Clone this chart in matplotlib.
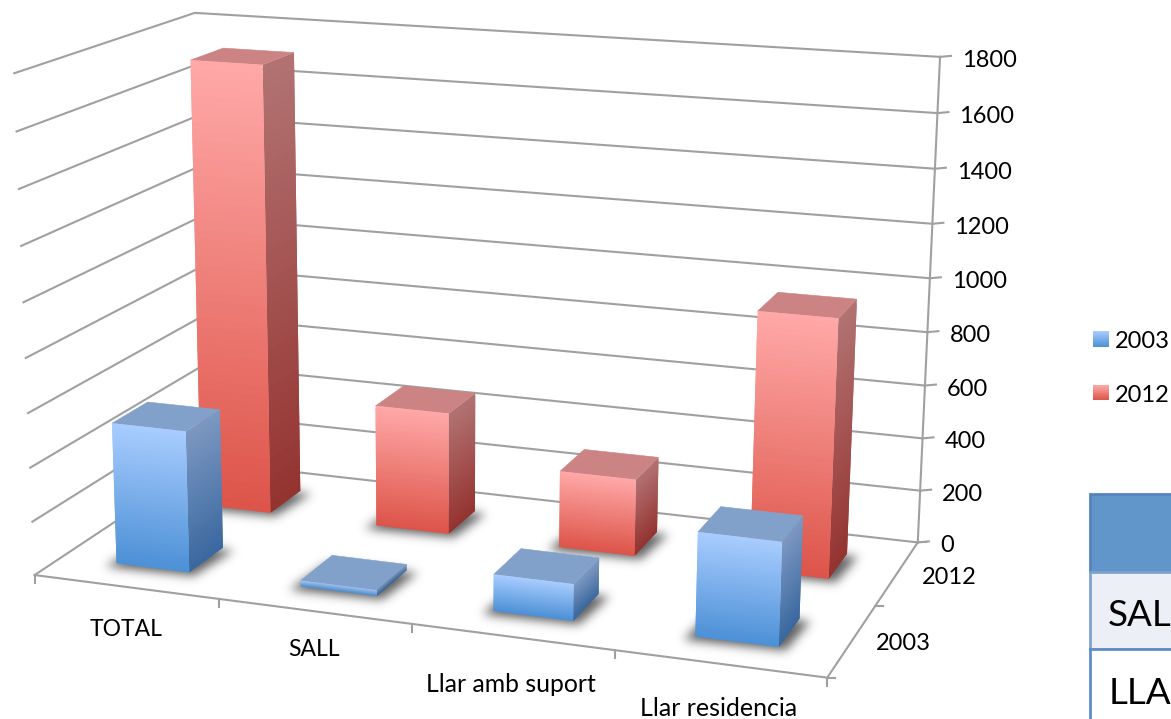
import matplotlib
matplotlib.use("Agg")
import matplotlib.pyplot as plt
from matplotlib.patches import Polygon, Rectangle
from matplotlib.path import Path
import numpy as np

plt.rcParams['font.family'] = ['Lato', 'DejaVu Sans']

categories = ['TOTAL', 'SALL', 'Llar amb suport', 'Llar residencia']
years = ['2003', '2012']
values_2003 = [525, 22, 133, 370]
values_2012 = [1710, 465, 290, 955]
value_ticks = [0, 200, 400, 600, 800, 1000, 1200, 1400, 1600, 1800]
table_rows = ['SAL', 'LLA']

# reference points of the box: (category, series, value) -> pixel
box_3d = [(0, 0, 0), (4, 0, 0), (4, 2, 0), (0, 2, 0), (0, 0, 1800), (4, 2, 1800), (0, 2, 1800)]
box_px = [(35, 575), (827, 678), (918, 542), (205, 462), (14, 73), (940, 57), (195, 13)]


def fit_camera(pts3, pts2):
    A, b = [], []
    for (x, y, z), (u, v) in zip(pts3, pts2):
        A.append([x, y, z, 1, 0, 0, 0, 0, -u * x, -u * y, -u * z])
        A.append([0, 0, 0, 0, x, y, z, 1, -v * x, -v * y, -v * z])
        b += [u, v]
    p = np.linalg.lstsq(np.array(A, float), np.array(b, float), rcond=None)[0]
    return np.append(p, 1).reshape(3, 4)


cam = fit_camera(box_3d, box_px)


def proj(c, s, v):
    q = cam @ np.array([c, s, v, 1.0])
    return q[0] / q[2], q[1] / q[2]


def gradient_quad(ax, top_l, top_r, bot_r, bot_l, col_top, col_bot, z, n=50):
    top_l, top_r, bot_r, bot_l = map(np.array, (top_l, top_r, bot_r, bot_l))
    c0, c1 = np.array(matplotlib.colors.to_rgb(col_top)), np.array(matplotlib.colors.to_rgb(col_bot))
    for i in range(n):
        t0, t1 = i / n, (i + 1) / n
        # each strip runs on under the next one, so no seams show
        t2 = min(1, t1 + 1 / n)
        pts = [top_l + (bot_l - top_l) * t0, top_r + (bot_r - top_r) * t0,
               top_r + (bot_r - top_r) * t2, top_l + (bot_l - top_l) * t2]
        col = c0 + (c1 - c0) * (t0 + t1) / 2
        ax.add_patch(Polygon(pts, closed=True, fc=col, ec='none', zorder=z + i * 0.0001))


def soft_shadow(ax, footprint, z, sigma=5.0, alpha=0.8):
    pts = np.array(footprint)
    centre = pts.mean(axis=0)
    # a little wider than the bar foot and moved down a bit
    half_w = np.ptp(pts[:, 0]) / 2
    grown = centre + (pts - centre) * [(half_w + 11) / half_w, 1.03] + [0, 3]
    x0, y0 = np.floor(grown.min(axis=0)) - 20
    x1, y1 = np.ceil(grown.max(axis=0)) + 20
    xs = np.arange(x0, x1)
    ys = np.arange(y0, y1)
    gx, gy = np.meshgrid(xs + 0.5, ys + 0.5)
    mask = Path(grown).contains_points(np.c_[gx.ravel(), gy.ravel()]).reshape(gx.shape).astype(float)
    r = np.arange(-15, 16)
    kern = np.exp(-r ** 2 / (2 * sigma ** 2))
    kern /= kern.sum()
    mask = np.apply_along_axis(lambda m: np.convolve(m, kern, mode='same'), 0, mask)
    mask = np.apply_along_axis(lambda m: np.convolve(m, kern, mode='same'), 1, mask)
    rgba = np.zeros(mask.shape + (4,))
    rgba[..., :3] = 0.22
    rgba[..., 3] = mask * alpha
    ax.imshow(rgba, extent=(x0, x1, y1, y0), aspect='auto', interpolation='bilinear', zorder=z)


def draw_bar(ax, cat, ser, val, cols, z):
    w = 0.2
    d = 0.2
    c0, c1 = cat + 0.5 - w, cat + 0.5 + w
    s0, s1 = ser + 0.5 - d, ser + 0.5 + d
    soft_shadow(ax, [proj(c0, s0, 0), proj(c1, s0, 0), proj(c1, s1, 0), proj(c0, s1, 0)], z - 1)
    gradient_quad(ax, proj(c1, s0, val), proj(c1, s1, val), proj(c1, s1, 0), proj(c1, s0, 0),
                  cols['side_top'], cols['side_bot'], z)
    ax.add_patch(Polygon([proj(c0, s0, val), proj(c1, s0, val), proj(c1, s1, val), proj(c0, s1, val)],
                         closed=True, fc=cols['top'], ec=cols['top'], lw=0.4, zorder=z))
    gradient_quad(ax, proj(c0, s0, val), proj(c1, s0, val), proj(c1, s0, 0), proj(c0, s0, 0),
                  cols['front_top'], cols['front_bot'], z + 0.1)


blue = {'front_top': '#A9CDFF', 'front_bot': '#4C90D6', 'side_top': '#7D98C2', 'side_bot': '#39689F', 'top': '#82A1CA'}
red = {'front_top': '#FFA9A8', 'front_bot': '#DD5449', 'side_top': '#B27373', 'side_bot': '#943330', 'top': '#CB8483'}

fig = plt.figure(figsize=(11.71, 7.19), dpi=100)
ax = fig.add_axes([0, 0, 1, 1])

grid_c = '#A0A0A0'
for v in value_ticks:
    a, b, c = proj(0, 0, v), proj(0, 2, v), proj(4, 2, v)
    ax.plot([a[0], b[0], c[0]], [a[1], b[1], c[1]], color=grid_c, lw=1.5, zorder=1)
    ax.plot([c[0], c[0] + 11], [c[1], c[1] - 1], color=grid_c, lw=1.5, zorder=1)
    ax.text(c[0] + 22, c[1] + 3.5, str(v), fontsize=17, ha='left', va='center', color='black')

p = [proj(0, 0, 0), proj(4, 0, 0), proj(4, 2, 0)]
ax.plot([q[0] for q in p], [q[1] for q in p], color=grid_c, lw=1.5, zorder=1)
q0, q1 = proj(4, 2, 0), proj(4, 2, 1800)
ax.plot([q0[0], q1[0]], [q0[1], q1[1]], color=grid_c, lw=1.5, zorder=1)
for i in range(5):
    q = proj(i, 0, 0)
    ax.plot([q[0], q[0]], [q[1], q[1] + 8], color=grid_c, lw=1.5, zorder=1)
for i in range(3):
    q = proj(4, i, 0)
    ax.plot([q[0], q[0] + 8], [q[1], q[1]], color=grid_c, lw=1.5, zorder=1)

for i, val in enumerate(values_2012):
    draw_bar(ax, i, 1, val, red, 3)
for i, val in enumerate(values_2003):
    draw_bar(ax, i, 0, val, blue, 5)

label_xy = [(126, 629), (314, 650), (511, 684), (719, 709)]
label_size = [16.5, 16.5, 17.8, 18]
for name, (x, y), size in zip(categories, label_xy, label_size):
    ax.text(x, y, name, fontsize=size, ha='center', va='center', color='black')
ax.text(949, 577, years[1], fontsize=17, ha='center', va='center')
ax.text(903, 644, years[0], fontsize=17, ha='center', va='center')

# legend
for y0, y1, cols, name in [(331, 347, blue, years[0]), (385, 400, red, years[1])]:
    gradient_quad(ax, (1093, y0), (1109, y0), (1109, y1), (1093, y1), cols['front_top'], cols['front_bot'], 3, n=16)
    ax.text(1115, (y0 + y1) / 2 + 3, name, fontsize=17, ha='left', va='center')

# piece of the table at the right edge
ax.add_patch(Rectangle((1089.5, 494), 90, 78, fc='#6096CA', ec='#5585BE', lw=2, zorder=2))
ax.add_patch(Rectangle((1089.5, 572), 90, 77, fc='#ECEFF5', ec='#7FA3CF', lw=2, zorder=2))
ax.add_patch(Rectangle((1089.5, 649), 90, 80, fc='white', ec='#5F8EC8', lw=2, zorder=2))
ax.text(1108, 616, table_rows[0], fontsize=26.5, ha='left', va='center', color='black', zorder=4)
ax.text(1109, 694, table_rows[1], fontsize=26.5, ha='left', va='center', color='black', zorder=4)

ax.set_xlim(0, 1171)
ax.set_ylim(719, 0)
ax.axis('off')

fig.savefig('out.png', dpi=100)
